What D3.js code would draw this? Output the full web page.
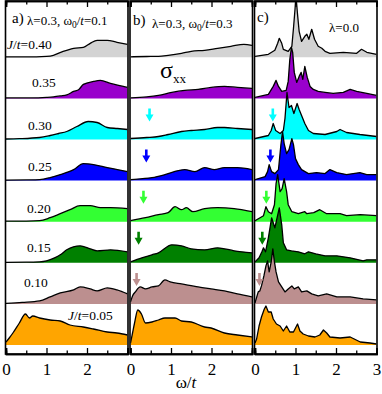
<!DOCTYPE html>
<html>
<head>
<meta charset="utf-8">
<script src="https://cdn.jsdelivr.net/npm/d3@7"></script>
<style>
  html, body { margin: 0; padding: 0; background: #fff; }
</style>
</head>
<body>
<div id="chart"></div>
<script>
// ---- data: sigma_xx(omega) curves, heights in arb. units, one array per J/t ----
const jValues = [0.40, 0.35, 0.30, 0.25, 0.20, 0.15, 0.10, 0.05];

// panel a) lambda=0.3, w0/t=0.1
const a040 = [[0,0.5],[0.5,0.5],[1.0,1],[1.17,2],[1.35,5],[1.5,7],[1.67,9],[1.91,10],[2.08,14],[2.25,17],[2.5,17],[2.74,15],[3,13]];
const a035 = [[0,0.5],[0.6,0.5],[1.0,1],[1.17,1.5],[1.35,2.5],[1.5,3.5],[1.67,7],[1.8,9],[1.91,14],[2.16,17],[2.33,18],[2.58,15],[3,11]];
const a030 = [[0,0.5],[0.33,0.8],[0.83,2],[1.09,4],[1.3,6],[1.5,8],[1.75,13],[2.03,18],[2.25,17],[2.5,12],[2.75,11],[3,10]];
const a025 = [[0,0.5],[0.5,0.7],[0.83,1],[1.09,3],[1.34,6],[1.67,11],[1.91,17],[2.16,16],[2.5,13],[2.75,11],[3,9]];
const a020 = [[0,0.5],[0.5,0.6],[0.83,1],[1.09,4],[1.34,8],[1.58,12],[1.83,16],[2.08,16],[2.33,14],[2.58,14],[3,13]];
const a015 = [[0,0.5],[0.5,0.6],[0.83,1],[1.0,2],[1.2,5],[1.34,8],[1.5,13],[1.83,17],[2.08,14],[2.25,12],[2.58,13],[3,11]];
const a010 = [[0,0.5],[0.4,1.5],[0.83,3],[1.09,7],[1.34,11],[1.67,14],[1.83,17],[2.08,15],[2.25,13],[2.5,16],[2.74,14],[3,10]];
const a005 = [[0,3],[0.08,7],[0.17,12],[0.33,22],[0.48,31],[0.58,27],[0.66,29],[0.83,27],[1.09,25],[1.34,24],[1.58,20],[1.91,18],[2.16,16],[2.5,13],[2.74,12],[3,10]];

// panel b) lambda=0.3, w0/t=0.3
const b040 = [[0,0.5],[0.4,0.8],[0.69,1],[0.93,2],[1.26,4],[1.5,6],[1.83,7],[2.15,9],[2.48,11],[2.8,13],[3,12]];
const b035 = [[0,0.5],[0.4,1.5],[0.69,3],[1.02,6],[1.34,8],[1.67,9],[1.99,11],[2.32,12],[2.64,11],[3,10]];
const b030 = [[0,1],[0.4,2],[0.69,3],[0.93,5],[1.26,8],[1.5,9],[1.83,10],[2.15,12],[2.32,12],[2.64,11],[3,10]];
const b025 = [[0,1],[0.3,2],[0.53,3],[0.85,6],[1.18,10],[1.34,11],[1.59,9],[1.83,13],[2.07,11],[2.32,13],[2.64,13],[3,11]];
const b020 = [[0,1],[0.37,4],[0.69,7],[0.93,9],[1.1,15],[1.26,12],[1.38,14],[1.54,10],[1.83,13],[2.15,14],[2.56,13],[3,10]];
const b015 = [[0,1],[0.28,5],[0.53,8],[0.69,10],[1.02,18],[1.26,17],[1.5,14],[1.83,13],[2.15,15],[2.56,12],[3,10]];
const b010 = [[0,2],[0.05,8],[0.12,12],[0.24,17],[0.37,15],[0.53,17],[0.69,18],[0.85,24],[0.98,22],[1.26,20],[1.67,17],[1.99,15],[2.32,13],[2.64,10],[3,7]];
const b005 = [[0,2],[0.05,12],[0.1,22],[0.18,35],[0.27,31],[0.37,22],[0.53,23],[0.69,25],[0.85,27],[1.1,27],[1.26,24],[1.5,23],[1.83,18],[1.99,17],[2.32,12],[2.64,10],[3,8]];

// panel c) lambda=0.0
const c040 = [[0,1],[0.33,3],[0.49,7],[0.56,14],[0.6,19],[0.66,14],[0.7,8],[0.82,6],[0.91,11],[0.95,29],[0.99,49],[1.01,62],[1.05,43],[1.09,26],[1.15,16],[1.23,21],[1.28,23],[1.33,18],[1.4,28],[1.47,18],[1.56,11],[1.65,9],[1.73,6],[1.85,4],[2.18,5],[2.51,4],[2.63,8],[2.76,5],[3,3]];
const c035 = [[0,1],[0.33,4],[0.45,12],[0.52,18],[0.58,12],[0.66,7],[0.77,8],[0.82,17],[0.86,39],[0.9,51],[0.93,46],[0.97,26],[1.03,16],[1.09,22],[1.14,26],[1.18,19],[1.23,32],[1.29,21],[1.36,12],[1.44,9],[1.56,7],[1.73,6],[1.93,5],[2.18,6],[2.35,9],[2.51,7],[2.76,5],[3,3]];
const c030 = [[0,1],[0.33,4],[0.4,9],[0.45,16],[0.51,9],[0.62,6],[0.7,9],[0.74,21],[0.79,47],[0.84,32],[0.9,34],[0.96,26],[1.04,36],[1.09,30],[1.15,24],[1.23,16],[1.32,9],[1.44,6],[1.73,5],[2.02,8],[2.1,10],[2.26,7],[2.59,5],[3,3]];
const c025 = [[0,1],[0.25,4],[0.31,9],[0.35,16],[0.41,9],[0.49,7],[0.58,11],[0.64,36],[0.68,49],[0.72,37],[0.78,27],[0.84,31],[0.91,42],[0.95,36],[1.0,22],[1.07,16],[1.15,11],[1.32,7],[1.52,8],[1.73,7],[1.85,11],[2.02,8],[2.26,6],[2.59,8],[2.76,6],[3,6]];
const c020 = [[0,1],[0.21,6],[0.27,15],[0.33,10],[0.41,8],[0.48,17],[0.52,38],[0.56,47],[0.62,30],[0.67,33],[0.72,43],[0.78,30],[0.82,17],[0.91,10],[1.07,8],[1.23,10],[1.28,8],[1.45,9],[1.6,12],[1.77,8],[2.1,8],[2.26,6],[2.6,7],[3,6]];
const c015 = [[0,1],[0.1,5],[0.17,11],[0.21,15],[0.26,11],[0.33,25],[0.41,45],[0.49,35],[0.6,55],[0.66,38],[0.7,20],[0.78,13],[0.9,12],[1.07,11],[1.23,9],[1.32,11],[1.5,9],[1.73,7],[2.02,7],[2.35,5],[2.67,2],[2.76,3],[3,3]];
const c010 = [[0,1],[0.08,12],[0.12,13],[0.16,18],[0.22,28],[0.27,38],[0.31,43],[0.35,32],[0.4,42],[0.44,55],[0.48,42],[0.52,32],[0.58,22],[0.66,17],[0.74,12],[0.82,15],[0.91,18],[0.97,15],[1.07,17],[1.15,12],[1.28,13],[1.4,10],[1.56,8],[1.77,10],[2.02,7],[2.35,7],[2.67,5],[3,4]];
const c005 = [[0,2],[0.04,6],[0.1,19],[0.16,28],[0.23,36],[0.27,39],[0.33,33],[0.4,33],[0.45,26],[0.53,21],[0.62,19],[0.7,14],[0.78,19],[0.86,13],[0.95,13],[1.05,21],[1.11,14],[1.19,11],[1.32,9],[1.48,8],[1.6,10],[1.69,15],[1.77,12],[1.85,8],[2.1,7],[2.35,8],[2.6,3],[2.84,2],[3,1]];

// arrow positions (omega/t) for J/t = 0.30 ... 0.10
const arrowOmegaB = [0.47, 0.39, 0.32, 0.20, 0.15];
const arrowOmegaC = [0.44, 0.38, 0.28, 0.18, 0.11];

const majorTicks = [0, 1, 2, 3];
const minorTicks = [0.5, 1.5, 2.5];
const labelTicksAB = [0, 1, 2];
const labelTicksC = [0, 1, 2, 3];

// ---- styles / layout ----
const serif = '"Liberation Serif", "DejaVu Serif", "Times New Roman", serif';
const fillColors = ["#d3d3d3", "#9900cc", "#00ffff", "#0000ff", "#33ff33", "#008000", "#bc8f8f", "#ffa500"];
const width = 382, height = 394;
const plotTop = 1, plotBottom = 354;
const stripStep = 41.1;

const svg = d3.select("#chart").append("svg")
  .attr("width", width)
  .attr("height", height)
  .style("font-family", serif);

const yScale = d3.scaleLinear()
  .domain([-9, 344])
  .range([plotBottom, plotTop]);

const panels = [
  { id: "a", x0: 6, x1: 127.5, curves: [a040, a035, a030, a025, a020, a015, a010, a005], smooth: true, labels: labelTicksAB, arrows: null },
  { id: "b", x0: 130.5, x1: 252, curves: [b040, b035, b030, b025, b020, b015, b010, b005], smooth: true, labels: labelTicksAB, arrows: arrowOmegaB },
  { id: "c", x0: 255, x1: 376.5, curves: [c040, c035, c030, c025, c020, c015, c010, c005], smooth: false, labels: labelTicksC, arrows: arrowOmegaC }
];

panels.forEach(p => {
  const xScale = d3.scaleLinear().domain([0, 3]).range([p.x0, p.x1]);
  const g = svg.append("g").attr("class", "panel-" + p.id);

  svg.append("clipPath").attr("id", "clip-" + p.id)
    .append("rect")
    .attr("x", p.x0).attr("y", plotTop)
    .attr("width", p.x1 - p.x0).attr("height", plotBottom - plotTop);

  const plot = g.append("g").attr("clip-path", `url(#clip-${p.id})`);

  // top strip first, lower strips drawn over it
  p.curves.forEach((data, i) => {
    const offset = (p.curves.length - 1 - i) * stripStep;
    const curve = p.smooth ? d3.curveMonotoneX : d3.curveLinear;
    const area = d3.area()
      .x(d => xScale(d[0]))
      .y0(yScale(offset))
      .y1(d => yScale(offset + d[1]))
      .curve(curve);
    const line = d3.line()
      .x(d => xScale(d[0]))
      .y(d => yScale(offset + d[1]))
      .curve(curve);
    plot.append("path").datum(data)
      .attr("d", area)
      .attr("fill", fillColors[i]);
    plot.append("path").datum(data)
      .attr("d", line)
      .attr("fill", "none")
      .attr("stroke", "#000")
      .attr("stroke-width", 1.3)
      .attr("stroke-linejoin", "round");
  });

  // arrows marking the low energy peak
  if (p.arrows) {
    p.arrows.forEach((w, k) => {
      const i = k + 2; // J/t = 0.30 is index 2
      const offset = (p.curves.length - 1 - i) * stripStep;
      const tx = xScale(w), ty = yScale(offset + 18);
      const pts = [
        [tx - 1.3, ty - 13], [tx + 1.3, ty - 13], [tx + 1.3, ty - 7],
        [tx + 4, ty - 7], [tx, ty], [tx - 4, ty - 7], [tx - 1.3, ty - 7]
      ];
      g.append("path")
        .attr("d", "M" + pts.map(q => q.join(",")).join("L") + "Z")
        .attr("fill", fillColors[i]);
    });
  }

  // frame
  g.append("rect")
    .attr("x", p.x0 - 0.5).attr("y", plotTop)
    .attr("width", p.x1 - p.x0 + 1).attr("height", plotBottom - plotTop)
    .attr("fill", "none").attr("stroke", "#000").attr("stroke-width", 1.6);

  // bottom ticks (inward) with labels
  g.append("g").attr("transform", `translate(0,${plotBottom})`)
    .call(d3.axisBottom(xScale).tickValues(majorTicks).tickSize(-6).tickFormat(""));
  g.append("g").attr("transform", `translate(0,${plotBottom})`)
    .call(d3.axisBottom(xScale).tickValues(minorTicks).tickSize(-3.5).tickFormat(""));
  const lab = g.append("g").attr("transform", `translate(0,${plotBottom})`)
    .call(d3.axisBottom(xScale).tickValues(p.labels).tickSize(0).tickPadding(9).tickFormat(d3.format("d")));
  lab.attr("font-family", null).attr("font-size", null);
  lab.selectAll("text").style("font-size", "17px").style("font-family", serif);
  lab.select(".domain").remove();

  // top ticks (inward)
  g.append("g").attr("transform", `translate(0,${plotTop})`)
    .call(d3.axisTop(xScale).tickValues(majorTicks).tickSize(-6).tickFormat(""));
  g.append("g").attr("transform", `translate(0,${plotTop})`)
    .call(d3.axisTop(xScale).tickValues(minorTicks).tickSize(-3.5).tickFormat(""));

  g.selectAll(".domain").attr("stroke-width", 1.6);
  g.selectAll(".tick line").attr("stroke-width", 1.3);
});

// ---- text labels ----
function addText(x, y, size) {
  return svg.append("text").attr("x", x).attr("y", y)
    .style("font-family", serif).style("font-size", size + "px");
}
function paramLabel(x, y, lam, w0) {
  const t = addText(x, y, 13);
  t.append("tspan").text("λ=" + lam + ", ω");
  t.append("tspan").attr("dy", 3).style("font-size", "9.5px").text("0");
  t.append("tspan").attr("dy", -3).text("/");
  t.append("tspan").style("font-style", "italic").text("t");
  t.append("tspan").text("=" + w0);
}
function jLabel(x, y, val, withJ) {
  const t = addText(x, y, 13.5);
  if (withJ) {
    t.append("tspan").style("font-style", "italic").text("J");
    t.append("tspan").text("/");
    t.append("tspan").style("font-style", "italic").text("t");
    t.append("tspan").text("=" + val);
  } else {
    t.text(val);
  }
}

addText(12, 23, 15).text("a)");
paramLabel(27, 25, "0.3", "0.1");
addText(133, 25, 15).text("b)");
paramLabel(152, 28, "0.3", "0.3");
addText(257, 22, 15).text("c)");
addText(329, 32, 13).text("λ=0.0");

const jLabelPos = [[7, 49], [32, 87], [28, 130], [28, 171], [27, 213], [27, 252], [24, 287], [68, 320]];
jValues.forEach((v, i) => {
  const withJ = i === 0 || i === jValues.length - 1;
  jLabel(jLabelPos[i][0], jLabelPos[i][1], v.toFixed(2), withJ);
});

const sig = addText(160, 78, 24);
sig.append("tspan").text("σ");
sig.append("tspan").attr("dy", 5).style("font-size", "13px").text("xx");

const xl = addText(186, 388, 17).attr("text-anchor", "middle");
xl.append("tspan").text("ω/");
xl.append("tspan").style("font-style", "italic").text("t");
</script>
</body>
</html>
